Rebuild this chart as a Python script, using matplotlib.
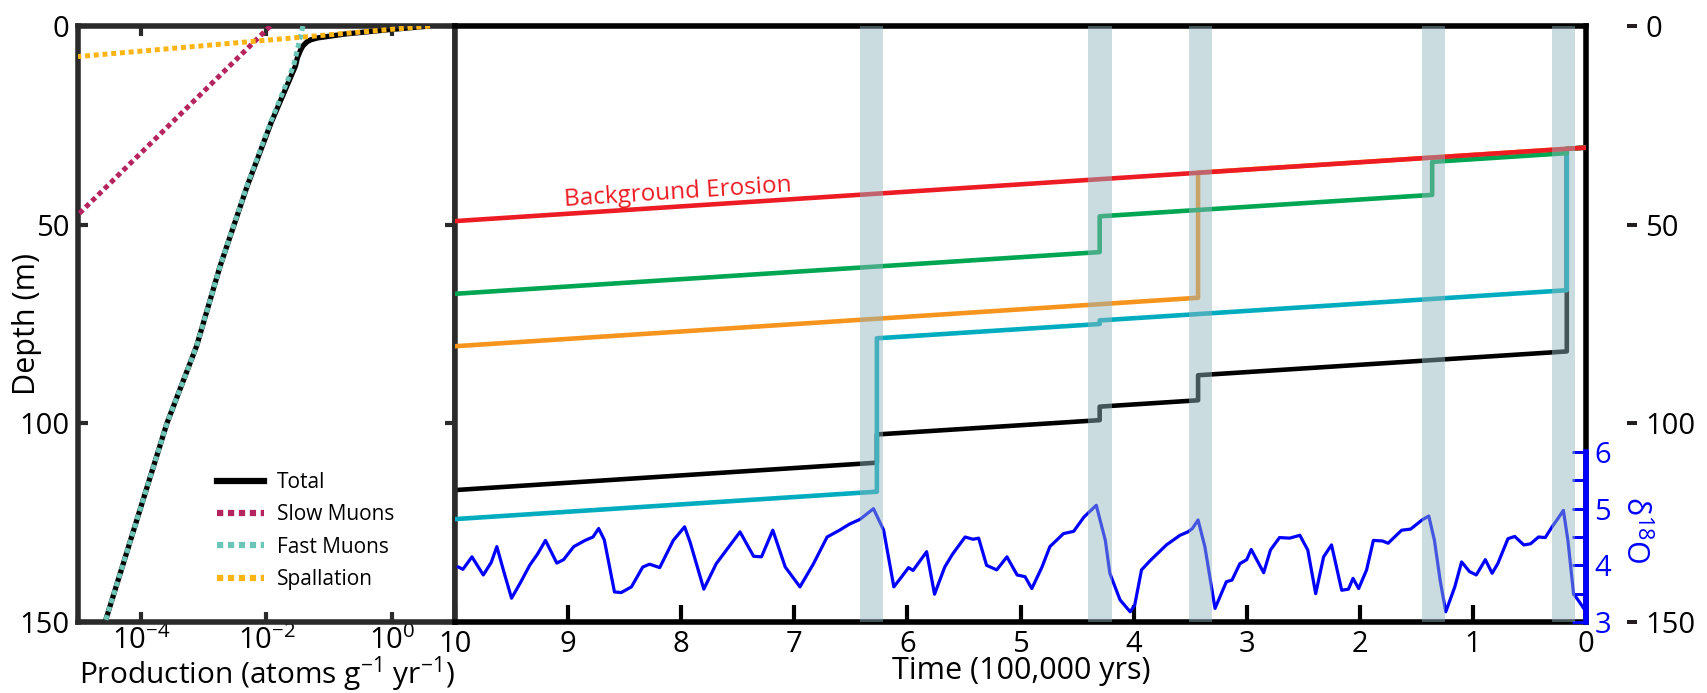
import matplotlib
matplotlib.use("Agg")
import matplotlib.pyplot as plt
from matplotlib.lines import Line2D

plt.rcParams['font.family'] = ['Open Sans', 'DejaVu Sans']
plt.rcParams['mathtext.fontset'] = 'custom'
plt.rcParams['mathtext.rm'] = 'Open Sans'
plt.rcParams['mathtext.it'] = 'Open Sans:italic'
plt.rcParams['mathtext.bf'] = 'Open Sans:bold'

# ---------------- production profiles (left panel) ----------------
total_depth = [0, 1, 2, 3, 3.5, 4, 5, 6, 8, 10, 24.4, 40.4, 60.5, 80.6, 100, 150]
total_prod = [4.0, 0.79, 0.18, 0.065, 0.05, 0.044, 0.038, 0.035, 0.031, 0.029,
              0.0118, 0.0049, 0.00182, 0.00077, 0.00026, 2.7e-5]
slow_depth = [0, 47.5]
slow_prod = [0.0115, 1.0e-5]
fast_depth = [0, 10, 24.4, 40.4, 60.5, 80.6, 100, 150]
fast_prod = [0.038, 0.027, 0.0115, 0.00484, 0.00182, 0.00077, 0.00026, 2.7e-5]
spall_depth = [0, 7.7]
spall_prod = [4.0, 1.0e-5]

prod_ticks = [1e-4, 1e-2, 1e0]
prod_ticklabels = [r'$10^{-4}$', r'$10^{-2}$', r'$10^{0}$']
depth_ticks = [0, 50, 100, 150]

# ---------------- burial histories (right panel) ----------------
bg_time = [10, 0]
bg_depth = [49.1, 30.6]

green_time = [10, 4.30, 4.30, 1.36, 1.36, 0.17, 0.17, 0]
green_depth = [67.4, 56.9, 47.9, 42.5, 34.2, 32.0, 30.9, 30.6]

orange_time = [10, 3.43, 3.43, 0]
orange_depth = [80.6, 68.4, 36.9, 30.6]

cyan_time = [10, 6.27, 6.27, 4.30, 4.30, 0.17, 0.17, 0]
cyan_depth = [124.1, 117.2, 78.6, 75.0, 74.1, 66.5, 30.9, 30.6]

black_time = [10, 6.27, 6.27, 4.30, 4.30, 3.43, 3.43, 0.17, 0.17, 0]
black_depth = [116.8, 109.9, 102.8, 99.2, 95.8, 94.2, 87.9, 81.9, 30.9, 30.6]

glacial_start = [6.42, 4.40, 3.51, 1.45, 0.30]
glacial_end = [6.22, 4.19, 3.31, 1.25, 0.10]

time_ticks = list(range(0, 11))

# ---------------- benthic d18O record ----------------
d18o_time = [9.97, 9.93, 9.85, 9.75, 9.68, 9.63, 9.57, 9.50, 9.42, 9.34, 9.27, 9.20,
             9.10, 9.04, 8.95, 8.85, 8.78, 8.73, 8.68, 8.59, 8.53, 8.44, 8.34, 8.28,
             8.19, 8.07, 7.97, 7.92, 7.80, 7.69, 7.60, 7.48, 7.36, 7.29, 7.19, 7.08,
             6.95, 6.83, 6.71, 6.60, 6.51, 6.42, 6.30, 6.21, 6.12, 6.05, 5.99, 5.95,
             5.83, 5.76, 5.67, 5.60, 5.49, 5.42, 5.37, 5.30, 5.21, 5.12, 5.03, 4.96,
             4.90, 4.81, 4.74, 4.62, 4.53, 4.44, 4.33, 4.25, 4.21, 4.12, 4.03, 3.99,
             3.93, 3.85, 3.71, 3.59, 3.52, 3.48, 3.43, 3.37, 3.28, 3.18, 3.13, 3.06,
             3.00, 2.96, 2.85, 2.79, 2.71, 2.62, 2.53, 2.46, 2.39, 2.32, 2.25, 2.16,
             2.10, 2.06, 2.01, 1.94, 1.88, 1.80, 1.75, 1.63, 1.55, 1.45, 1.39, 1.34,
             1.29, 1.24, 1.16, 1.10, 1.03, 0.97, 0.89, 0.83, 0.78, 0.69, 0.63, 0.55,
             0.49, 0.42, 0.36, 0.30, 0.25, 0.20, 0.16, 0.11, 0.05, 0.01]
d18o_value = [3.97, 3.93, 4.15, 3.83, 4.05, 4.33, 3.90, 3.42, 3.70, 4.00, 4.20, 4.44,
              4.04, 4.10, 4.33, 4.44, 4.50, 4.65, 4.45, 3.53, 3.52, 3.62, 3.97, 4.02,
              3.96, 4.44, 4.68, 4.40, 3.58, 4.03, 4.27, 4.59, 4.16, 4.15, 4.62, 3.97,
              3.62, 4.03, 4.50, 4.62, 4.73, 4.81, 5.00, 4.62, 3.62, 3.80, 3.96, 3.91,
              4.24, 3.49, 3.97, 4.20, 4.50, 4.46, 4.48, 4.00, 3.92, 4.15, 3.83, 3.80,
              3.59, 3.97, 4.33, 4.56, 4.60, 4.85, 5.06, 4.44, 3.86, 3.39, 3.18, 3.30,
              3.92, 4.09, 4.36, 4.53, 4.59, 4.65, 4.80, 4.33, 3.24, 3.71, 3.74, 4.03,
              4.10, 4.28, 3.87, 4.27, 4.49, 4.48, 4.53, 4.27, 3.50, 4.15, 4.36, 3.56,
              3.58, 3.77, 3.59, 3.92, 4.44, 4.43, 4.39, 4.62, 4.64, 4.80, 4.87, 4.44,
              3.74, 3.18, 3.62, 4.06, 3.89, 3.83, 4.10, 3.86, 4.03, 4.47, 4.51, 4.36,
              4.38, 4.50, 4.49, 4.68, 4.82, 4.97, 4.44, 3.50, 3.33, 3.21]
d18o_ticks = [3, 4, 5, 6]
d18o_minor = [3.5, 4.5, 5.5]

# ---------------- figure ----------------
W, H = 1707, 693
fig = plt.figure(figsize=(W / 100, H / 100), dpi=100)
PX = 72 / 100  # points per pixel

spine_col = '#2b2b2b'
tick_fs = 21
label_fs = 22

# left panel: production vs depth
ax1 = fig.add_axes([78 / W, 71 / H, 377 / W, 596 / H])
dots = (0, (1, 0.75))
ax1.plot(total_prod, total_depth, color='black', lw=3.8, solid_capstyle='butt', zorder=2)
ax1.plot(slow_prod, slow_depth, color='#b5245f', lw=3.6, ls=dots,
         dash_capstyle='butt', zorder=3)
ax1.plot(fast_prod, fast_depth, color='#6cc6b8', lw=3.6, ls=dots,
         dash_capstyle='butt', zorder=3)
ax1.plot(spall_prod, spall_depth, color='#fdb515', lw=3.6, ls=dots,
         dash_capstyle='butt', zorder=4)
ax1.set_xscale('log')
ax1.set_xlim(1e-5, 1e1)
ax1.set_ylim(150, 0)
ax1.set_xticks(prod_ticks)
ax1.set_xticklabels(prod_ticklabels)
ax1.xaxis.set_minor_locator(matplotlib.ticker.NullLocator())
ax1.set_yticks(depth_ticks)
ax1.tick_params(axis='both', direction='in', length=7, width=3, color=spine_col,
                labelsize=tick_fs, top=True, right=True)
ax1.tick_params(axis='x', pad=3)
ax1.tick_params(axis='y', pad=6)
for s in ax1.spines.values():
    s.set_linewidth(4)
    s.set_color(spine_col)
ax1.set_ylabel('Depth (m)', fontsize=label_fs, va='center')
ax1.yaxis.set_label_coords(-0.135, 0.5)
ax1.set_xlabel(r'Production (atoms g$^{-1}$ yr$^{-1}$)', fontsize=21.5, va='center')
ax1.xaxis.set_label_coords(0.5, -0.088)

handles = [
    Line2D([], [], color='black', lw=4.5),
    Line2D([], [], color='#b5245f', lw=4.5, ls=dots, dash_capstyle='butt'),
    Line2D([], [], color='#6cc6b8', lw=4.5, ls=dots, dash_capstyle='butt'),
    Line2D([], [], color='#fdb515', lw=4.5, ls=dots, dash_capstyle='butt'),
]
ax1.legend(handles, ['Total', 'Slow Muons', 'Fast Muons', 'Spallation'],
           loc='upper left', bbox_to_anchor=(0.368, 0.252), frameon=False,
           fontsize=15, handlelength=2.25, handletextpad=0.65, labelspacing=0.55,
           borderpad=0, borderaxespad=0)

# right panel: depth histories through time
ax2 = fig.add_axes([455 / W, 71 / H, 1131 / W, 596 / H])
lw = 3.3
ax2.plot(black_time, black_depth, color='black', lw=lw, zorder=2)
ax2.plot(cyan_time, cyan_depth, color='#00acbd', lw=lw, zorder=3)
ax2.plot(orange_time, orange_depth, color='#f7941d', lw=lw, zorder=4)
ax2.plot(green_time, green_depth, color='#00a651', lw=lw, zorder=5)
ax2.plot(bg_time, bg_depth, color='#ed1c24', lw=lw, zorder=6)
ax2.text(8.03, 42.0, 'Background Erosion', color='#ed1c24', fontsize=17.5,
         rotation=3.7, ha='center', va='center', rotation_mode='anchor')
ax2.set_xlim(10, 0)
ax2.set_ylim(150, 0)
ax2.set_xticks(time_ticks)
ax2.set_yticks([])
ax2.tick_params(axis='x', direction='in', length=12, width=3, color='black',
                labelsize=tick_fs, pad=6)
for name, s in ax2.spines.items():
    s.set_linewidth(4)
    s.set_color('black' if name in ('top', 'right', 'bottom') else spine_col)
ax2.set_xlabel('Time (100,000 yrs)', fontsize=label_fs, va='center')
ax2.xaxis.set_label_coords(0.501, -0.083)

# detached depth scale on the right
ax3 = ax2.twinx()
ax3.set_ylim(150, 0)
ax3.set_yticks(depth_ticks)
ax3.spines['right'].set_position(('outward', 41 * PX))
for s in ax3.spines.values():
    s.set_visible(False)
ax3.tick_params(axis='y', direction='out', length=10 * PX, width=4 * PX,
                color='#231f20', labelsize=tick_fs, pad=6)

# d18O record with its own partial scale
ax4 = ax2.twinx()
ax4.plot(d18o_time, d18o_value, color='#0000ff', lw=2.3, zorder=2,
         solid_joinstyle='round')
ax4.set_ylim(3, 3 + 3 * 596 / 170)
ax4.set_yticks(d18o_ticks)
ax4.set_yticks(d18o_minor, minor=True)
for name, s in ax4.spines.items():
    s.set_visible(name == 'right')
ax4.spines['right'].set_bounds(3, 6)
ax4.spines['right'].set_color('#0000ff')
ax4.spines['right'].set_linewidth(4)
ax4.tick_params(axis='y', which='both', direction='in', length=14 * PX, width=3 * PX,
                color='#0000ff', labelcolor='#0000ff', labelsize=tick_fs, pad=6)
ax4.set_ylabel('δ$^{18}$O', color='#0000ff', fontsize=label_fs,
               rotation=270, va='center')
ax4.yaxis.set_label_coords(1.043, 0.154)

for a, b in zip(glacial_start, glacial_end):
    ax4.axvspan(b, a, color='#91b5bf', alpha=0.47, lw=0, zorder=5)

fig.savefig('out.png', dpi=100)
